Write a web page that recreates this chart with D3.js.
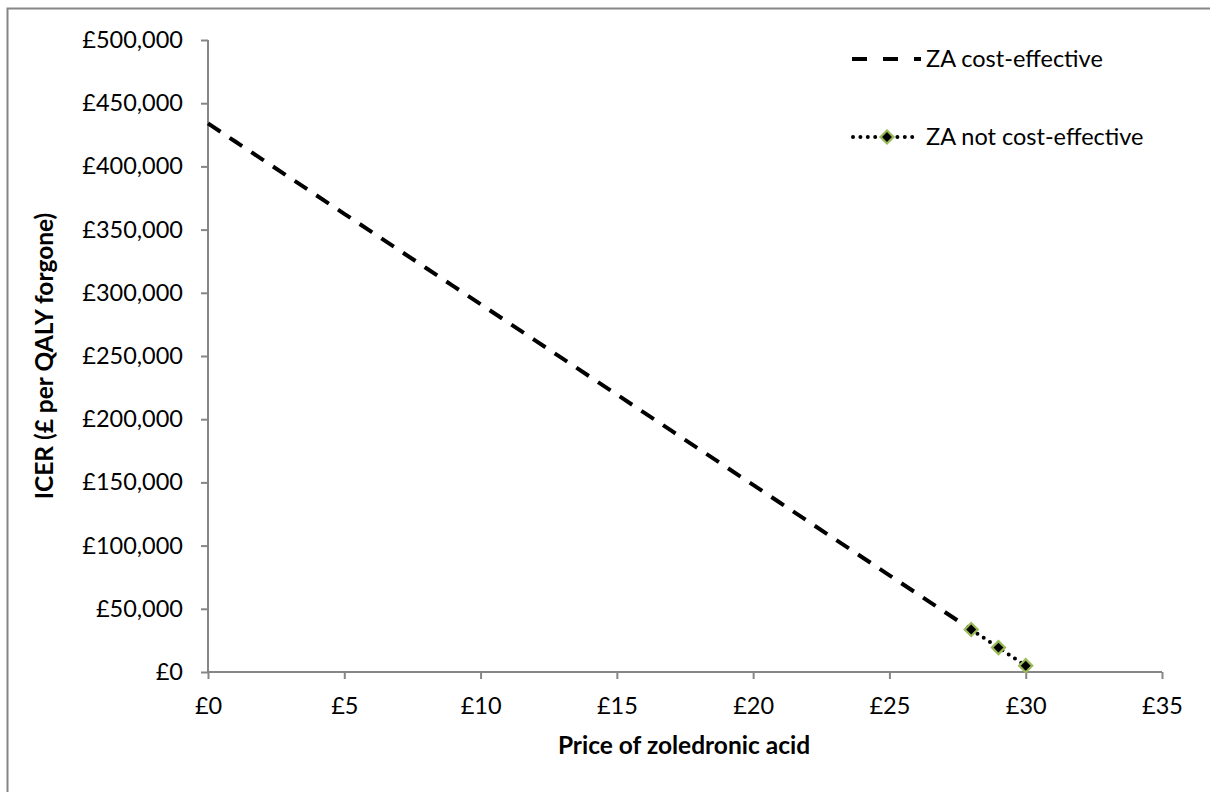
<!DOCTYPE html>
<html>
<head>
<meta charset="utf-8">
<script src="https://cdn.jsdelivr.net/npm/d3@7"></script>
<style>
html,body{margin:0;padding:0;background:#fff;}
svg{display:block;font-family:Lato,"Open Sans",sans-serif;}
</style>
</head>
<body>
<svg id="chart" width="1210" height="792"></svg>
<script>
// Data
const priceCostEffective = [0,1,2,3,4,5,6,7,8,9,10,11,12,13,14,15,16,17,18,19,20,21,22,23,24,25,26,27,28];
const icerCostEffective = [434000,419700,405400,391100,376800,362500,348200,333900,319600,305300,291000,276700,262400,248100,233800,219500,205200,190900,176600,162300,148000,133700,119400,105100,90800,76500,62200,47900,33600];
const priceNotCostEffective = [28,29,30];
const icerNotCostEffective = [33600,19300,5000];
const xTicks = [0,5,10,15,20,25,30,35];
const yTicks = [0,50000,100000,150000,200000,250000,300000,350000,400000,450000,500000];
const seriesNames = ["ZA cost-effective","ZA not cost-effective"];
const xTitle = "Price of zoledronic acid";
const yTitle = "ICER (£ per QALY forgone)";

const svg = d3.select("#chart");
const axisColor = "#868686";
const fontSize = 23.5;
const titleSize = 24.5;

// outer frame
svg.append("rect").attr("x",7.5).attr("y",8.5).attr("width",1230).attr("height",820)
  .attr("fill","none").attr("stroke",axisColor).attr("stroke-width",2);

const x = d3.scaleLinear().domain([0,35]).range([208,1162]);
const y = d3.scaleLinear().domain([0,500000]).range([672,40]);

const fmtGBP = d => "£" + d3.format(",")(d);

// y axis
const yAxis = svg.append("g").attr("transform","translate(208,0)")
  .call(d3.axisLeft(y).tickValues(yTicks).tickFormat(fmtGBP).tickSizeOuter(0).tickSize(7).tickPadding(18));
// x axis
const xAxis = svg.append("g").attr("transform","translate(0,672)")
  .call(d3.axisBottom(x).tickValues(xTicks).tickFormat(fmtGBP).tickSizeOuter(0).tickSize(7).tickPadding(18));

[yAxis,xAxis].forEach(g=>{
  g.select(".domain").attr("stroke",axisColor).attr("stroke-width",2);
  g.selectAll(".tick line").attr("stroke",axisColor).attr("stroke-width",2);
  g.selectAll(".tick text").attr("fill","#000").attr("font-size",fontSize).attr("font-family","Lato");
});
yAxis.select(".domain").attr("d","M0,40V672");
xAxis.select(".domain").attr("d","M208,0H1162");

// titles
svg.append("text").attr("x",684).attr("y",754).attr("text-anchor","middle")
  .attr("font-size",titleSize).attr("font-weight","bold").text(xTitle);
svg.append("text").attr("transform","translate(53,356) rotate(-90)").attr("text-anchor","middle")
  .attr("font-size",titleSize).attr("font-weight","bold").text(yTitle);

const line = d3.line().x(d=>x(d[0])).y(d=>y(d[1]));
const ceData = priceCostEffective.map((p,i)=>[p,icerCostEffective[i]]);
const nceData = priceNotCostEffective.map((p,i)=>[p,icerNotCostEffective[i]]);

svg.append("path").datum(ceData).attr("d",line).attr("fill","none")
  .attr("stroke","#000").attr("stroke-width",4).attr("stroke-dasharray","15,11");

svg.append("path").datum(nceData).attr("d",line).attr("fill","none")
  .attr("stroke","#000").attr("stroke-width",4).attr("stroke-linecap","round").attr("stroke-dasharray","0,7.5");

const marker = d3.symbol().type(d3.symbolSquare).size(85);
svg.selectAll(".mk").data(nceData).enter().append("path")
  .attr("d",marker).attr("transform",d=>`translate(${x(d[0])},${y(d[1])}) rotate(45)`)
  .attr("fill","#000").attr("stroke","#9BBB59").attr("stroke-width",2.2);

// legend
const lg = svg.append("g");
lg.append("line").attr("x1",852).attr("x2",921).attr("y1",59).attr("y2",59)
  .attr("stroke","#000").attr("stroke-width",4).attr("stroke-dasharray","15,16");
lg.append("text").attr("x",926).attr("y",59).attr("dy","0.35em").attr("font-size",fontSize).text(seriesNames[0]);
lg.append("line").attr("x1",853).attr("x2",919).attr("y1",137).attr("y2",137)
  .attr("stroke","#000").attr("stroke-width",4).attr("stroke-linecap","round").attr("stroke-dasharray","0,7.4");
lg.append("path").attr("d",marker).attr("transform","translate(887,137) rotate(45)")
  .attr("fill","#000").attr("stroke","#9BBB59").attr("stroke-width",2.2);
lg.append("text").attr("x",926).attr("y",137).attr("dy","0.35em").attr("font-size",fontSize).text(seriesNames[1]);
</script>
</body>
</html>
